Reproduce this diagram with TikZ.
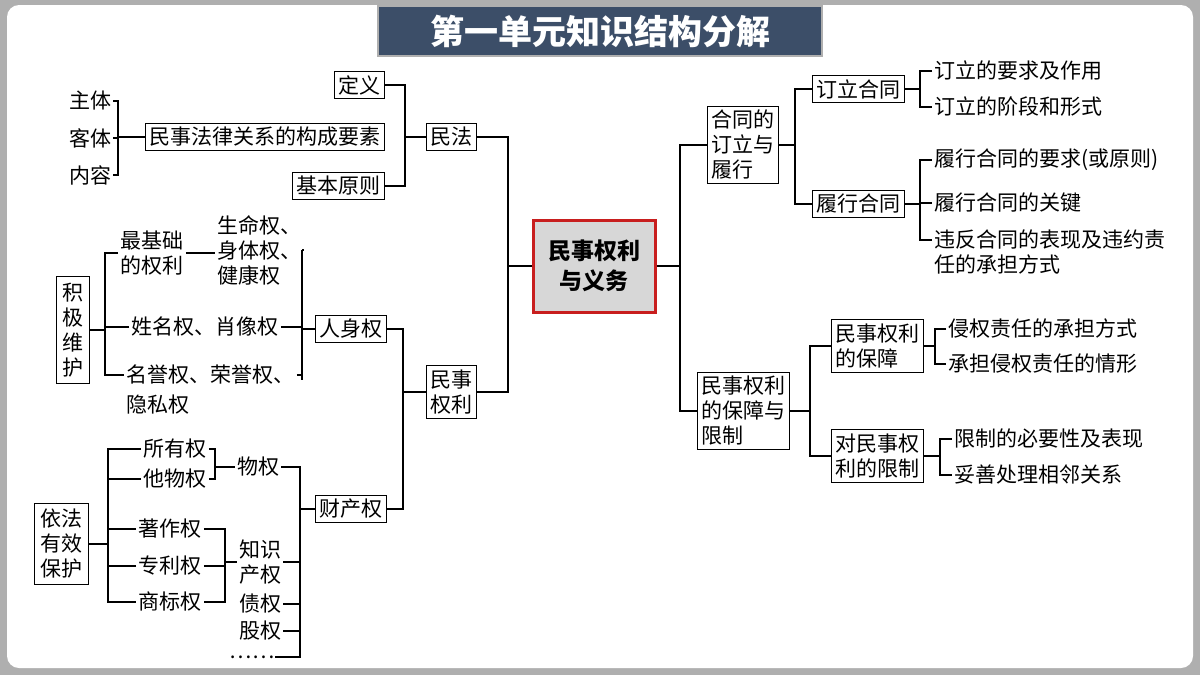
\documentclass[tikz,border=0pt]{standalone}
\usepackage{fontspec}
\newfontfamily\cjk{Noto Sans CJK SC}
\definecolor{col_title}{RGB}{60,78,104}
\definecolor{col_frame}{RGB}{175,175,175}
\definecolor{col_red}{RGB}{200,30,30}
\definecolor{col_core}{RGB}{215,215,215}
\tikzset{
  box/.style={draw, fill=white, inner sep=2pt, line width=0.5pt},
  txt/.style={inner sep=1pt},
  link/.style={line width=0.6pt},
}
\begin{document}
\begin{tikzpicture}[x=0.5pt,y=-0.5pt,font=\cjk\fontsize{10.5}{12.5}\selectfont]
\useasboundingbox (0,0) rectangle (1200,675);
\fill[col_frame] (0,0) rectangle (1200,675);
\fill[white,rounded corners=6pt] (7,5) rectangle (1193,668);
\node[fill=col_title, draw=col_frame, line width=1pt, text=white, font=\cjk\bfseries\fontsize{17}{20}\selectfont,
  minimum width=222pt, minimum height=25pt] (title) at (600,31) {第一单元知识结构分解};
%% centre
\node[box, fill=col_core, draw=col_red, line width=1.5pt, align=center, minimum width=61pt, minimum height=46pt,
  font=\cjk\bfseries\fontsize{11.5}{15}\selectfont] (core) at (594,266) {民事权利\\ 与义务};
\coordinate (jl) at (508,266);
\coordinate (jr) at (680,266);
%% left branch
\node[box] (mf) at (451,137) {民法};
\node[box, align=center] (ms) at (451,392) {民事\\权利};
\node[box] (dy) at (359,85) {定义};
\node[box] (gc) at (265,137) {民事法律关系的构成要素};
\node[box] (jb) at (338,186) {基本原则};
\node[txt] (zt) at (90,101) {主体};
\node[txt] (kt) at (90,138) {客体};
\node[txt] (nr) at (90,175) {内容};
\node[box] (rs) at (351,329) {人身权};
\node[box] (cc) at (351,509) {财产权};
\node[box, align=center, inner sep=3pt] (jj) at (73,330) {积\\极\\维\\护};
\node[txt, align=center] (zj) at (152,253) {最基础\\的权利};
\node[txt, align=left, anchor=west] (sm) at (215,250) {生命权、\\身体权、\\健康权};
\node[txt] (xm) at (205,327) {姓名权、肖像权};
\node[txt, anchor=west] (my) at (124,375) {名誉权、荣誉权、};
\node[txt, anchor=west] (ys) at (124,405) {隐私权};
\node[box, align=center, inner sep=3pt] (yf) at (61,544) {依法\\有效\\保护};
\node[txt] (sy) at (175,449) {所有权};
\node[txt] (tw) at (175,479) {他物权};
\node[txt] (wq) at (258,467) {物权};
\node[txt] (zz) at (170,529) {著作权};
\node[txt] (zl) at (170,566) {专利权};
\node[txt] (sb) at (170,602) {商标权};
\node[txt, align=center] (zs) at (260,562) {知识\\产权};
\node[txt] (zq) at (260,604) {债权};
\node[txt] (gq) at (260,631) {股权};
\node[txt, inner sep=0pt] (dd) at (252,657) {……};
%% right branch
\node[box, align=left] (ht) at (743,145) {合同的\\订立与\\履行};
\node[box, align=left] (bz) at (743,411) {民事权利\\的保障与\\限制};
\node[box] (dl) at (858,89) {订立合同};
\node[box] (lx) at (858,204) {履行合同};
\node[txt, anchor=west] (d1) at (932,71) {订立的要求及作用};
\node[txt, anchor=west] (d2) at (932,107) {订立的阶段和形式};
\node[txt, anchor=west] (l1) at (932,160) {履行合同的要求(或原则)};
\node[txt, anchor=west] (l2) at (932,203) {履行合同的关键};
\node[txt, anchor=west, align=left] (l3) at (932,252) {违反合同的表现及违约责\\任的承担方式};
\node[box, align=left] (bh) at (877,346) {民事权利\\的保障};
\node[box, align=left] (xz) at (877,456) {对民事权\\利的限制};
\node[txt, anchor=west] (b1) at (946,329) {侵权责任的承担方式};
\node[txt, anchor=west] (b2) at (946,364) {承担侵权责任的情形};
\node[txt, anchor=west] (x1) at (952,439) {限制的必要性及表现};
\node[txt, anchor=west] (x2) at (952,475) {妥善处理相邻关系};
%% connectors left
\draw[link] (core.west) -- (jl);
\draw[link] (mf.east) -| (jl) |- (ms.east);
\draw[link] (mf.west) -- (405,137);
\draw[link] (dy.east) -| (405,137) |- (jb.east);
\draw[link] (gc.west) -- (118,137);
\draw[link] (zt.east) -| (118,137) |- (nr.east);
\draw[link] (kt.east) -- (118,138);
\draw[link] (ms.west) -- (403,392);
\draw[link] (rs.east) -| (403,392) |- (cc.east);
\draw[link] (rs.west) -- (302,329);
\draw[link] (302,250) -- (302,380);
\draw[link] (xm.east) -- (302,327);
\draw[link] (my.east) -- (302,375);
\draw[link] (sm.east) -- (302,250);
\draw[link] (zj.east) -- (zj.east -| sm.west);
\draw[link] (jj.east) -- (105,330);
\draw[link] (zj.west) -| (105,330) |- (my.west);
\draw[link] (xm.west) -- (105,327);
\draw[link] (cc.west) -- (300,509);
\draw[link] (wq.east) -| (300,509) |- (dd.east);
\draw[link] (zs.east) -- (300,562);
\draw[link] (zq.east) -- (300,604);
\draw[link] (gq.east) -- (300,631);
\draw[link] (sy.east) -| (215,467) |- (tw.east);
\draw[link] (wq.west) -- (215,467);
\draw[link] (zz.east) -| (225,562) |- (sb.east);
\draw[link] (zl.east) -- (225,566);
\draw[link] (zs.west) -- (225,562);
\draw[link] (yf.east) -- (108,544);
\draw[link] (sy.west) -| (108,544) |- (sb.west);
\draw[link] (tw.west) -- (108,479);
\draw[link] (zz.west) -- (108,529);
\draw[link] (zl.west) -- (108,566);
%% connectors right
\draw[link] (core.east) -- (jr);
\draw[link] (ht.west) -| (jr) |- (bz.west);
\draw[link] (ht.east) -- (795,145);
\draw[link] (dl.west) -| (795,145) |- (lx.west);
\draw[link] (dl.east) -- (920,89);
\draw[link] (d1.west) -| (920,89) |- (d2.west);
\draw[link] (lx.east) -- (920,204);
\draw[link] (l1.west) -| (920,204) |- (932,240);
\draw[link] (l2.west) -- (920,203);
\draw[link] (bz.east) -- (810,411);
\draw[link] (bh.west) -| (810,411) |- (xz.west);
\draw[link] (bh.east) -- (935,346);
\draw[link] (b1.west) -| (935,346) |- (b2.west);
\draw[link] (xz.east) -- (940,456);
\draw[link] (x1.west) -| (940,456) |- (x2.west);
\end{tikzpicture}
\end{document}
